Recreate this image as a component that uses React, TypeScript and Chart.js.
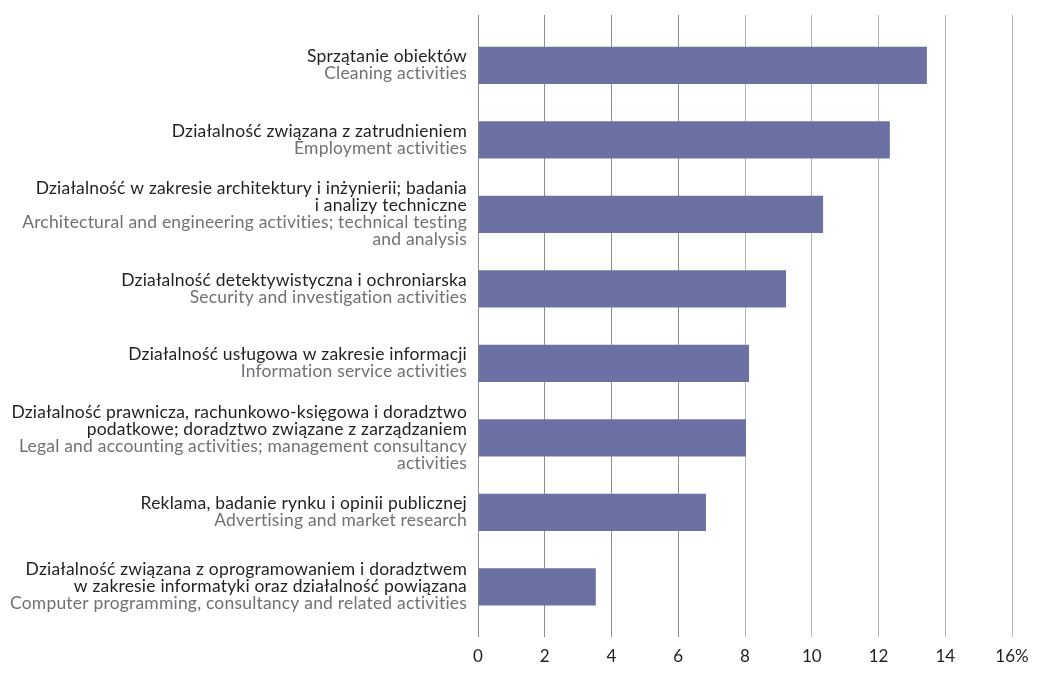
import React, { useEffect, useRef } from "react";
import { Chart, registerables } from "chart.js";

Chart.register(...registerables);

const labelsPl: string[][] = [
  ["Sprzątanie obiektów"],
  ["Działalność związana z zatrudnieniem"],
  ["Działalność w zakresie architektury i inżynierii; badania", "i analizy techniczne"],
  ["Działalność detektywistyczna i ochroniarska"],
  ["Działalność usługowa w zakresie informacji"],
  ["Działalność prawnicza, rachunkowo-księgowa i doradztwo", "podatkowe; doradztwo związane z zarządzaniem"],
  ["Reklama, badanie rynku i opinii publicznej"],
  ["Działalność związana z oprogramowaniem i doradztwem", "w zakresie informatyki oraz działalność powiązana"],
];

const labelsEn: string[][] = [
  ["Cleaning activities"],
  ["Employment activities"],
  ["Architectural and engineering activities; technical testing", "and analysis"],
  ["Security and investigation activities"],
  ["Information service activities"],
  ["Legal and accounting activities; management consultancy", "activities"],
  ["Advertising and market research"],
  ["Computer programming, consultancy and related activities"],
];

const values: number[] = [13.45, 12.34, 10.34, 9.23, 8.12, 8.03, 6.83, 3.53];

const tickLabels: string[] = ["0", "2", "4", "6", "8", "10", "12", "14", "16%"];

const FONT = "Lato";
const BAR_COLOR = "#6b72a3";
const PL_COLOR = "#231f20";
const EN_COLOR = "#707176";

const labelPlugin = {
  id: "twoColorLabels",
  afterDraw(chart: any) {
    const ctx = chart.ctx;
    const yScale = chart.scales.y;
    const area = chart.chartArea;
    ctx.save();
    try {
      (ctx as any).letterSpacing = "0.2px";
    } catch (e) {}
    ctx.font = `15px ${FONT}`;
    const ref = ctx.measureText("Computer programming, consultancy and related activities").width;
    const size = (15 * 459) / ref;
    const lh = 17;
    ctx.font = `${size}px ${FONT}`;
    ctx.textAlign = "right";
    ctx.textBaseline = "middle";
    const x = area.left - 11;
    for (let i = 0; i < labelsPl.length; i++) {
      const lines = [
        ...labelsPl[i].map((t) => ({ t, c: PL_COLOR })),
        ...labelsEn[i].map((t) => ({ t, c: EN_COLOR })),
      ];
      const cy = yScale.getPixelForValue(i);
      const y0 = cy - ((lines.length - 1) * lh) / 2;
      lines.forEach((ln, k) => {
        ctx.fillStyle = ln.c;
        ctx.fillText(ln.t, x, y0 + k * lh);
      });
    }
    ctx.restore();
  },
};

const gridColor = (c: any) => (c.tick && c.tick.value < 8 ? "#8e8e8e" : "#b4b4b4");

export default function App() {
  const ref = useRef<HTMLCanvasElement | null>(null);
  useEffect(() => {
    document.body.style.margin = "0";
    const chart = new Chart(ref.current as HTMLCanvasElement, {
      type: "bar",
      data: {
        labels: labelsPl.map((l) => l.join(" ")),
        datasets: [
          {
            data: values,
            backgroundColor: BAR_COLOR,
            borderWidth: 0,
            categoryPercentage: 0.5,
            barPercentage: 1,
          },
        ],
      },
      options: {
        indexAxis: "y",
        animation: false,
        responsive: false,
        layout: { padding: { top: 15, left: 478, right: 28, bottom: 0 } },
        plugins: { legend: { display: false }, tooltip: { enabled: false } },
        scales: {
          y: { display: false, offset: true },
          x: {
            position: "bottom",
            min: 0,
            max: 16,
            ticks: {
              stepSize: 2,
              padding: 11,
              color: PL_COLOR,
              font: { family: FONT, size: 17, lineHeight: 1 },
              callback: (_v: any, i: number) => tickLabels[i],
            },
            grid: { color: gridColor, lineWidth: 1, tickLength: 13, drawTicks: true },
            border: { display: false },
          },
          x2: {
            position: "top",
            axis: "x",
            min: 0,
            max: 16,
            ticks: { stepSize: 2, display: false },
            grid: { color: gridColor, lineWidth: 1, tickLength: 13, drawOnChartArea: false },
            border: { display: false },
          },
        },
      } as any,
      plugins: [labelPlugin],
    });
    return () => chart.destroy();
  }, []);
  return (
    <div style={{ width: 1040, height: 676 }}>
      <canvas ref={ref} width={1040} height={676} />
    </div>
  );
}
